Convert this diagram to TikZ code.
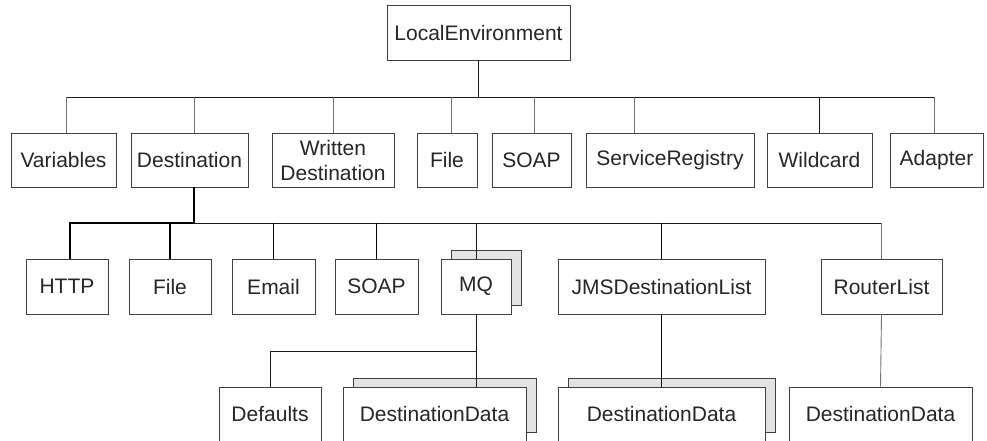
\documentclass[tikz,border=0pt]{standalone}
\usepackage{fontspec}
\setmainfont{Liberation Sans}
\usetikzlibrary{shadows}

\begin{document}
\begin{tikzpicture}[x=1pt,y=-1pt,
  box/.style={rectangle,draw=black!75,line width=0.8pt,fill=white,text=black!85,
    inner sep=0pt,minimum height=55pt,font=\fontsize{21}{25}\selectfont,align=center},
  stack/.style={box,copy shadow={shadow xshift=10pt,shadow yshift=8.5pt,fill=black!11,draw=black!75,line width=0.8pt}},
  link/.style={draw=black!55,line width=0.9pt},
  blink/.style={draw=black!90,line width=0.9pt},
  thicklink/.style={draw=black,line width=1.6pt}]
\useasboundingbox (0,0) rectangle (987,440);
\clip (0,0) rectangle (987,440);

% top level
\node[box,minimum width=183pt] at (478.5,32.5) (root) {LocalEnvironment};

% second row
\node[box,minimum width=105pt,minimum height=54pt] at (63.5,160) (vars) {Variables};
\node[box,minimum width=117pt,minimum height=54pt] at (189.5,160) (dest) {Destination};
\node[box,minimum width=122pt,minimum height=54pt] at (333,160) (wdest) {Written\\Destination};
\node[box,minimum width=60pt,minimum height=54pt] at (447,160) (file) {File};
\node[box,minimum width=79pt,minimum height=54pt] at (531.5,160) (soap) {SOAP};
\node[box,minimum width=168pt,minimum height=54pt] at (670,160) (sreg) {ServiceRegistry};
\node[box,minimum width=105pt,minimum height=54pt] at (819.5,160) (wild) {Wildcard};
\node[box,minimum width=93pt,minimum height=54pt] at (936.5,160) (adapt) {Adapter};

% third row
\node[box,minimum width=82pt] at (67,286.5) (http) {HTTP};
\node[box,minimum width=82pt] at (170,286.5) (dfile) {File};
\node[box,minimum width=83pt] at (273.5,286.5) (email) {Email};
\node[box,minimum width=83pt] at (376.5,286.5) (dsoap) {SOAP};
\node[stack,minimum width=70pt] at (476,286.5) (mq) {MQ};
\node[box,minimum width=207pt] at (661.5,286.5) (jms) {JMSDestinationList};
\node[box,minimum width=121pt] at (881.5,286.5) (router) {RouterList};

% fourth row
\node[box,minimum width=102pt,minimum height=54pt] at (270,414) (defaults) {Defaults};
\node[stack,minimum width=183pt,minimum height=54pt] at (434.5,414) (ddmq) {DestinationData};
\node[stack,minimum width=207pt,minimum height=54pt] at (661.5,414) (ddjms) {DestinationData};
\node[box,minimum width=183pt,minimum height=54pt] at (880.5,414) (ddrouter) {DestinationData};

% links
\coordinate (bus1) at (478.5,97);
\coordinate (bus2) at (194,223);
\coordinate (bus3) at (476,351);

\draw[blink] (root.south) -- (bus1);
\draw[blink] ([xshift=2.5]vars.north |- bus1) -- ([xshift=-2.5]adapt.north |- bus1);
\foreach \n/\dx in {vars/2.5,dest/4.5,wdest/0,file/4,soap/2.5,sreg/-36,adapt/-2.5}
  \draw[link] ([xshift=\dx]\n.north |- bus1) -- ([xshift=\dx]\n.north);
\draw[blink] (wild.north |- bus1) -- (wild.north);

\draw[thicklink] ([xshift=4.5]dest.south) -- (bus2) -- ([xshift=3]http.north |- bus2) -- ([xshift=3]http.north);
\draw[blink] (bus2) -- (bus2 -| router.north);
\foreach \n in {dfile,email,dsoap}
  \draw[thicklink] (bus2 -| \n.north) -- (\n.north);
\draw[blink] (bus2 -| mq.north) -- (mq.north);
\draw[thicklink] (bus2 -| jms.north) -- (jms.north);
\draw[link] (bus2 -| router.north) -- (router.north);

\draw[blink] (mq.south) -- (bus3) -| (defaults.north);
\draw[blink] (bus3) -- (bus3 |- ddmq.north);
\draw[thicklink] (jms.south) -- (ddjms.north);
\draw[link] (router.south) -- (ddrouter.north);
\end{tikzpicture}
\end{document}
